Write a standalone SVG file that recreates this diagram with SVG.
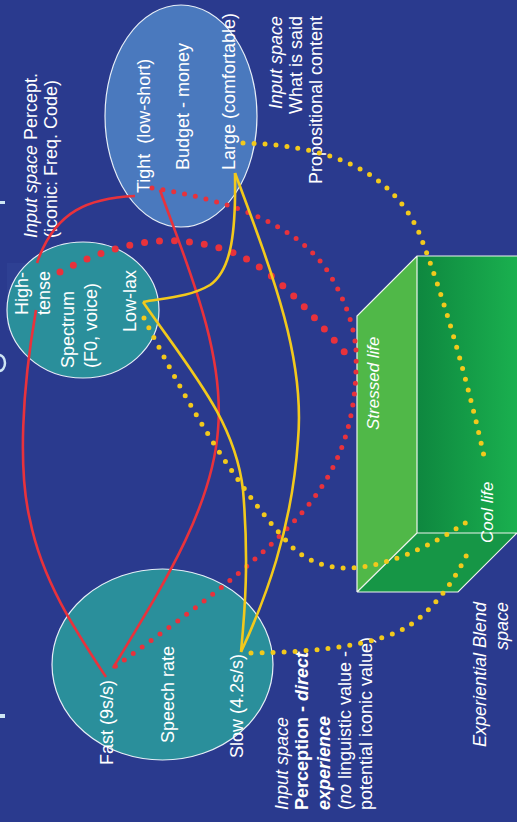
<svg xmlns="http://www.w3.org/2000/svg" width="517" height="822" viewBox="0 0 517 822">
<defs>
<linearGradient id="backG" x1="0" y1="0" x2="1" y2="0">
<stop offset="0" stop-color="#0e873f"/>
<stop offset="1" stop-color="#1ab04f"/>
</linearGradient>
<style>
text{font-family:"Liberation Sans",Arial,sans-serif;font-size:18px;fill:#ffffff}
.it{font-style:italic}
.b{font-weight:bold}
.e{text-anchor:end}
.ell{stroke:#e6eef7;stroke-width:1.2}
.red{fill:none;stroke:#e8323c;stroke-width:2.6}
.yel{fill:none;stroke:#f2c91c;stroke-width:2.6}
.rdot{fill:none;stroke:#e8323c;stroke-width:5;stroke-linecap:round;stroke-dasharray:0 11}
.rdotL{fill:none;stroke:#e8323c;stroke-width:7;stroke-linecap:round;stroke-dasharray:0 15}
.ydot{fill:none;stroke:#f2c91c;stroke-width:5;stroke-linecap:round;stroke-dasharray:0 11}
.edge{fill:none;stroke:#eef4ee;stroke-width:1.2}
.mark{fill:#cfe6f4}
</style>
</defs>
<rect width="517" height="822" fill="#2a3a8e"/>
<g id="title-remnants">
<rect class="mark" x="0" y="201" width="5" height="3"/>
<rect class="mark" x="0" y="714" width="5" height="4"/>
<path d="M-1,355 A6,8 0 0 1 -1,371" fill="none" stroke="#cfe6f4" stroke-width="2.5"/>
<rect x="7" y="263" width="50" height="67" fill="#2e4093"/>
</g>
<g id="node-budget">
<ellipse class="ell" cx="181" cy="116" rx="76" ry="111" fill="#4a79be"/>
<text transform="translate(150,193) rotate(-90)" xml:space="preserve">Tight  (low-short)</text>
<text transform="translate(189,170) rotate(-90)">Budget - money</text>
<text transform="translate(235,170) rotate(-90)">Large (comfortable)</text>
</g>
<g id="label-what-is-said">
<text class="e" transform="translate(282,16) rotate(-90)"><tspan class="it">Input space</tspan></text>
<text class="e" transform="translate(302,16) rotate(-90)">What is said</text>
<text class="e" transform="translate(322,16) rotate(-90)">Propositional content</text>
</g>
<g id="label-percept">
<text transform="translate(37,238) rotate(-90)"><tspan class="it">Input space</tspan> Percept.</text>
<text transform="translate(57,238) rotate(-90)">(iconic: Freq. Code)</text>
</g>
<g id="node-spectrum">
<ellipse class="ell" cx="83" cy="310" rx="76" ry="68" fill="#2a8f9b"/>
<text transform="translate(28,315) rotate(-90)">High-</text>
<text transform="translate(50,315) rotate(-90)">tense</text>
<text transform="translate(74,368) rotate(-90)">Spectrum</text>
<text transform="translate(97,368) rotate(-90)">(F0, voice)</text>
<text transform="translate(136,332) rotate(-90)">Low-lax</text>
</g>
<g id="node-speech-rate">
<ellipse class="ell" cx="162.5" cy="664.5" rx="110.5" ry="95.5" fill="#2a8f9b"/>
<text transform="translate(113,765) rotate(-90)">Fast (9s/s)</text>
<text transform="translate(174,743) rotate(-90)">Speech rate</text>
<text transform="translate(243,758) rotate(-90)">Slow (4.2s/s)</text>
</g>
<g id="label-perception">
<text transform="translate(288,810) rotate(-90)"><tspan class="it">Input space</tspan></text>
<text transform="translate(308,810) rotate(-90)"><tspan class="b">Perception - </tspan><tspan class="b it">direct</tspan></text>
<text transform="translate(330,810) rotate(-90)"><tspan class="b it">experience</tspan></text>
<text transform="translate(351,810) rotate(-90)">(<tspan class="it">no</tspan> linguistic value -</text>
<text transform="translate(372,810) rotate(-90)">potential iconic value)</text>
</g>
<g id="node-blend">
<rect x="417" y="256" width="100" height="277" fill="url(#backG)"/>
<polygon points="357,316 417,256 417,533 357,592" fill="#50b848"/>
<polygon points="357,592 417,533 517,533 458,592" fill="#169646"/>
<path class="edge" d="M357,592 L357,316 L417,256 L517,256 M417,256 L417,533 L517,533 M357,592 L417,533 M357,592 L458,592 L517,533"/>
</g>
<g id="connectors">
<path class="red" d="M135,196 C90,198 55,210 37,263"/>
<path class="red" d="M36,310 C22,390 18,470 30,520 C42,580 75,630 106,677"/>
<path class="red" d="M160,190 C185,260 225,350 218,430 C212,510 160,590 113,668"/>
<path class="rdotL" d="M60,272 C110,245 170,228 234,253 C280,272 320,325 348,356"/>
<path class="rdot" d="M152,188 C230,200 300,225 330,275 C345,300 354,325 356,350"/>
<path class="rdot" d="M356,350 C358,420 340,470 300,515 C250,570 180,620 113,668"/>
<path class="yel" d="M235,173 C236,230 232,270 210,285 C190,297 165,298 143,302"/>
<path class="yel" d="M143,302 C190,370 235,420 243,490 C249,560 245,610 241,652"/>
<path class="yel" d="M235,173 C275,280 305,360 298,440 C292,530 265,600 241,652"/>
<path class="ydot" d="M243,143 C320,145 390,165 420,235 C445,300 470,390 485,461"/>
<path class="ydot" d="M144,318 C180,390 230,480 290,545 C320,575 360,572 400,557 C430,546 455,530 471,519"/>
<path class="ydot" d="M251,653 C320,652 380,645 410,625 C435,608 455,580 468,552"/>
</g>
<g id="blend-labels">
<text class="it" style="font-size:17px" transform="translate(379,430) rotate(-90)">Stressed life</text>
<text class="it" style="font-size:17px" transform="translate(493,543) rotate(-90)">Cool life</text>
<text class="it e" transform="translate(486,602) rotate(-90)">Experiential Blend</text>
<text class="it e" transform="translate(508,602) rotate(-90)">space</text>
</g>
</svg>
